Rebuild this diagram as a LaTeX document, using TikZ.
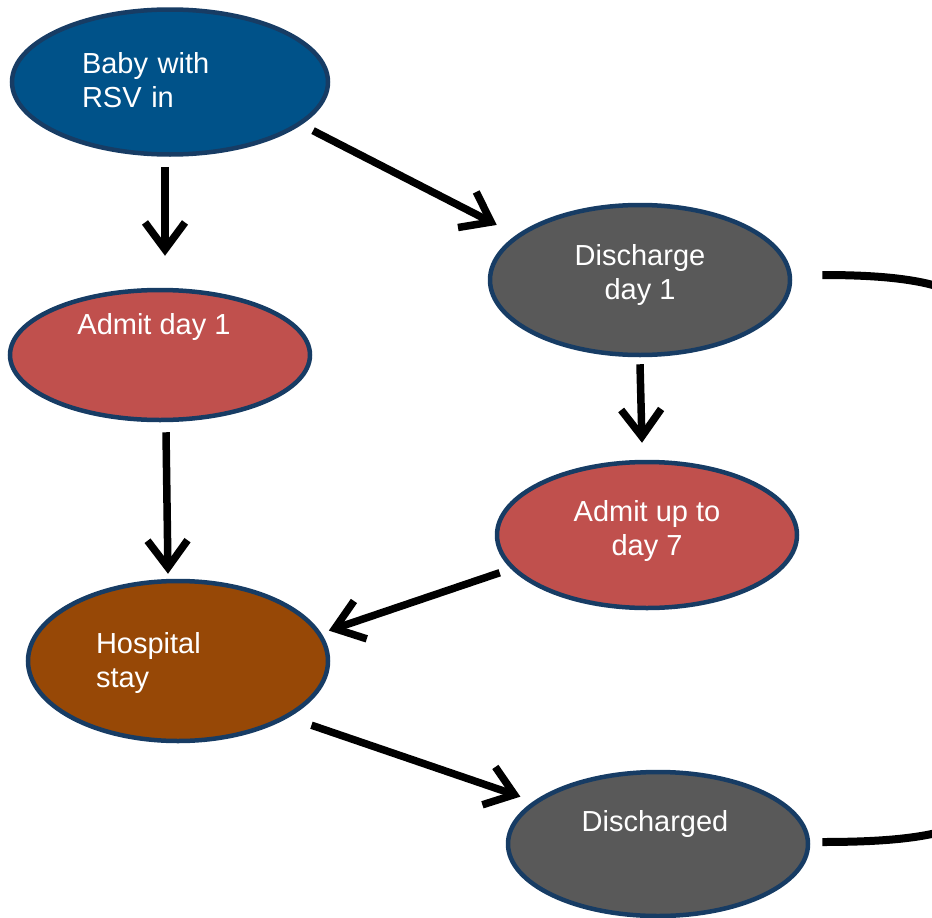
\documentclass[tikz,border=0pt]{standalone}
\usepackage{fontspec}
\setmainfont{Liberation Sans}
\usetikzlibrary{shapes.geometric, arrows.meta}

\definecolor{rsvblue}{RGB}{0,82,137}
\definecolor{admitred}{RGB}{192,80,77}
\definecolor{dischgrey}{RGB}{89,89,89}
\definecolor{staybrown}{RGB}{151,72,6}
\definecolor{rimblue}{RGB}{23,60,100}

\begin{document}
\begin{tikzpicture}[x=1pt, y=-1pt,
		state/.style={ellipse, draw=rimblue, line width=4.5pt, inner sep=0pt},
		txt/.style={text=white, font=\fontsize{29}{34}\selectfont, inner sep=0pt},
		arr/.style={line width=7.5pt, -{Straight Barb[length=27pt, width=40pt]}},
		link/.style={line width=8pt, line cap=butt}]
	\useasboundingbox (0,0) rectangle (932,918);
	\clip (0,0) rectangle (932,918);
	
	% states
	\node[state, fill=rsvblue, minimum width=316pt, minimum height=145pt] (baby) at (170,82) {};
	\node[state, fill=admitred, minimum width=300pt, minimum height=130pt] (admit1) at (160,355) {};
	\node[state, fill=dischgrey, minimum width=300pt, minimum height=150pt] (disch1) at (640,280) {};
	\node[state, fill=admitred, minimum width=300pt, minimum height=146pt] (admit7) at (647,535) {};
	\node[state, fill=staybrown, minimum width=300pt, minimum height=160pt] (stay) at (178,661) {};
	\node[state, fill=dischgrey, minimum width=300pt, minimum height=144pt] (discharged) at (658,844) {};
	
	% texts
	\node[txt, text width=176pt, align=left] (baby-t) at ([yshift=2pt]baby) {Baby with\\RSV in};
	\node[txt] (admit1-t) at ([xshift=-6pt, yshift=28pt]admit1) {Admit day 1};
	\node[txt, align=center] (disch1-t) at ([yshift=5pt]disch1) {Discharge\\day 1};
	\node[txt, align=center] (admit7-t) at ([yshift=4pt]admit7) {Admit up to\\day 7};
	\node[txt, text width=164pt, align=left] (stay-t) at ([yshift=-2pt]stay) {Hospital\\stay};
	\node[txt] (discharged-t) at ([xshift=-3pt, yshift=20pt]discharged) {Discharged};
	
	% arrows
	\draw[arr] ([xshift=-5pt, yshift=-10pt]baby.south) -- ([xshift=5pt, yshift=32pt]admit1.north);
	\draw[arr, shorten <=13pt, shorten >=22pt] (baby.-18) -- (disch1.160);
	\draw[arr] ([yshift=-7pt]disch1.south) -- ([xshift=-5pt, yshift=17pt]admit7.north);
	\draw[arr] ([xshift=6pt, yshift=-10pt]admit1.south) -- ([xshift=-10pt, yshift=5pt]stay.north);
	\draw[arr, shorten <=12pt, shorten >=8pt] (admit7.194) -- (stay.11);
	\draw[arr, shorten <=24pt, shorten >=14pt] (stay.-27) -- (discharged.161);
	
	% back to start
	\draw[link] ([xshift=30pt, yshift=5pt]disch1.east) .. controls (950,275) and (1010,295) .. (1010,390)
		-- (1010,750) .. controls (1010,825) and (950,842) .. ([xshift=12pt, yshift=2pt]discharged.east);
\end{tikzpicture}
\end{document}
